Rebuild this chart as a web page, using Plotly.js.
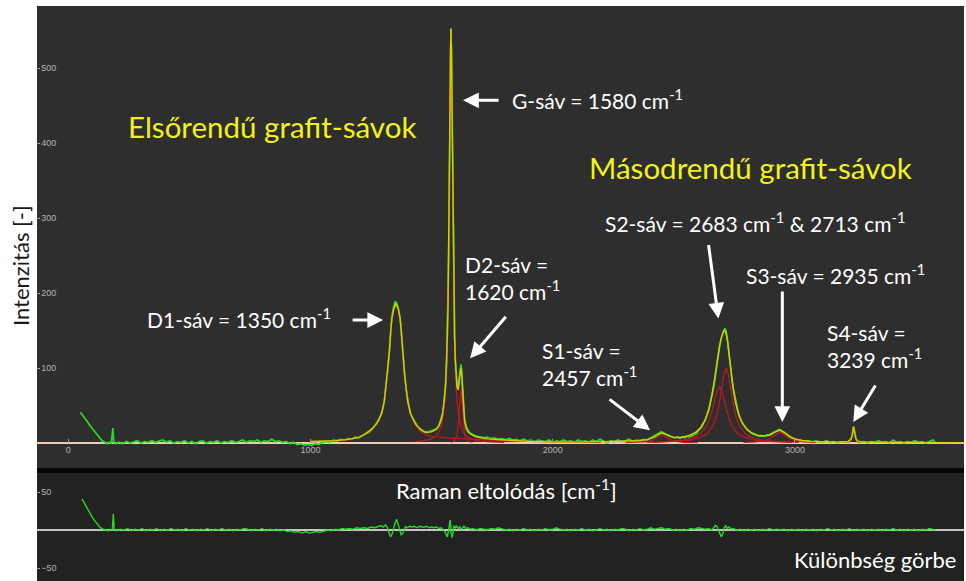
<!DOCTYPE html>
<html>
<head>
<meta charset="utf-8">
<script src="https://cdn.plot.ly/plotly-3.0.1.min.js"></script>
<style>html,body{margin:0;padding:0;background:#fff;}#chart{width:966px;height:581px;}</style>
</head>
<body>
<div id="chart"></div>
<script>
// ---------- DATA ----------
const measuredShift = [50,60,70,80,90,100,110,120,130,140,150,160,170,178,184,188,195,210,225,240,255,270,285,300,315,330,345,360,375,390,405,420,435,450,465,480,495,510,525,540,555,570,585,600,615,630,645,660,675,690,705,720,735,750,765,780,795,810,825,840,855,870,885,900,915,930,945,960,975,990,1005,1020,1035,1050,1065,1080,1095,1110,1125,1140,1155,1170,1185,1200,1215,1230,1245,1260,1273,1283,1293,1300,1305,1312,1318,1326,1331,1336,1343,1350,1353,1358,1363,1370,1375,1380,1388,1395,1401,1407,1413,1423,1433,1443,1453,1462,1470,1480,1490,1500,1510,1520,1530,1539,1545,1550,1555,1558,1562,1565,1568,1570,1572,1574,1576,1578,1580,1582,1584,1586,1588,1590,1592,1595,1598,1602,1605,1608,1611,1614,1618,1621,1624,1628,1632,1636,1642,1650,1660,1670,1680,1690,1700,1715,1730,1745,1760,1775,1790,1805,1820,1835,1850,1865,1880,1895,1910,1925,1940,1955,1970,1985,2000,2015,2030,2045,2060,2075,2090,2105,2120,2135,2150,2165,2180,2195,2210,2225,2240,2255,2270,2285,2300,2315,2330,2345,2360,2375,2390,2400,2410,2420,2430,2440,2448,2456,2465,2475,2485,2495,2505,2515,2525,2535,2545,2555,2565,2575,2585,2595,2605,2615,2625,2635,2645,2652,2658,2664,2670,2676,2682,2688,2694,2700,2706,2711,2716,2722,2728,2734,2740,2746,2752,2758,2764,2770,2778,2786,2795,2805,2815,2825,2835,2845,2855,2865,2875,2885,2895,2905,2915,2925,2935,2942,2950,2958,2966,2975,2985,2995,3005,3015,3025,3040,3055,3070,3085,3100,3115,3130,3145,3160,3175,3190,3205,3220,3230,3236,3240,3243,3247,3252,3258,3270,3285,3300,3315,3330,3345,3360,3375,3390,3405,3420,3435,3450,3465,3480,3495,3510,3525,3540,3555,3570,3578];
const measuredIntensity = [41,37,32,28,23,19,15,11,7,3,1,-1,1,0,20,1,-1,1,-1,2,0,1,3,0,2,1,3,1,2,4,1,3,0,2,1,3,0,2,-1,2,3,0,2,1,3,0,2,1,3,1,2,4,1,3,2,4,1,3,2,5,2,3,1,2,-1,1,-2,-1,-3,-2,-3,-1,-2,1,2,1,4,3,5,4,6,5,8,7,10,12,15,21,27,31,40,47,57,75,94,125,150,168,181,189,188,185,179,167,149,124,94,72,58,48,40,32,27,22,19,17,15,14,15,16,17,19,23,31,39,50,65,80,105,142,188,236,298,372,455,525,553,522,452,371,297,236,189,143,112,88,78,74,76,86,100,105,98,74,48,32,23,17,13,11,10,9,8,7,8,6,7,5,6,4,6,4,5,3,5,3,4,2,4,3,2,4,1,3,2,4,2,3,1,4,2,3,1,4,2,5,2,0,3,2,4,2,3,5,2,4,3,5,4,6,7,9,12,14,15,14,12,11,9,8,7,8,6,8,7,9,8,10,11,13,18,21,28,35,45,55,63,74,86,101,115,126,137,144,150,153,149,137,118,100,85,72,61,53,44,36,30,25,21,17,15,12,11,10,9,10,9,11,11,13,15,16,18,17,16,14,12,10,7,6,4,3,4,2,3,1,3,2,1,3,1,2,0,2,1,2,5,10,18,22,14,6,2,1,2,0,2,1,3,1,2,0,4,1,2,0,2,1,3,1,2,0,2,4,1];

const fitShift = [1000,1100,1150,1200,1223,1253,1273,1293,1305,1318,1326,1331,1336,1343,1353,1363,1370,1375,1380,1388,1401,1413,1433,1453,1470,1480,1500,1520,1530,1539,1545,1550,1555,1558,1562,1565,1568,1570,1572,1574,1576,1578,1580,1582,1584,1586,1588,1590,1592,1595,1598,1602,1605,1608,1610,1614,1618,1621,1624,1628,1632,1636,1642,1650,1660,1680,1700,1730,1800,1900,2000,2100,2200,2300,2350,2390,2420,2435,2450,2465,2480,2500,2530,2560,2590,2610,2630,2645,2658,2668,2678,2688,2696,2704,2710,2716,2722,2730,2738,2746,2756,2766,2780,2800,2820,2845,2870,2895,2918,2938,2958,2978,3000,3030,3070,3120,3180,3220,3232,3236,3239,3242,3245,3248,3252,3260,3280,3350,3450,3550,3700];
const fitIntensity = [2,3,4.5,7.5,11.5,18.5,25.5,38.5,55.7,92.8,122,148,166,178,186,178,166,148,122,93,56,39,25.5,18,15,14.4,14.9,18.4,23,30,38,49,64,78,104,140,187,235,296,370,453,523,552,523,453,370,296,235,187,140,109,84,74,72,71,83,96,100,92,68,44.5,29.5,20.4,15,12,8.5,7.3,5.5,4,2.2,1.6,1.2,1.9,2.3,3,4.5,7.9,11,13.3,11.7,9.2,7.4,7.7,9.5,14.3,20.3,31.2,45.3,64.5,84.6,107.7,128.5,140.5,148.2,150,146,134.8,112.8,89.7,70.6,52.4,39.9,28.2,18.9,13.7,10.4,9.3,10.4,14.4,17.2,13.3,8.5,5.4,3.4,2.2,1.5,1.1,2,5.2,9.6,16.4,22,16.4,9.6,5.2,2.45,1.3,0.8,0.65,0.55,0.45];

const d1Shift = [1000,1100,1150,1200,1223,1253,1273,1293,1305,1318,1326,1331,1336,1343,1353,1363,1370,1375,1380,1388,1401,1413,1433,1453,1470,1480,1500,1520,1540,1560,1580,1600,1620,1640,1660,1700,1750,1800,1900,2000,2100,2200];
const d1Intensity = [1.5,2.5,4,7,11,18,25,38,55,92,121,147,165,177,185,177,165,147,121,92,55,38,24,16,12,10.5,9,8,7.5,7,6.6,6.2,5.8,5.4,5,4.3,3.6,3,2.2,1.6,1.2,1];

const gShift = [1430,1480,1500,1520,1530,1539,1545,1550,1555,1558,1562,1565,1568,1570,1572,1574,1576,1578,1580,1582,1584,1586,1588,1590,1592,1595,1598,1602,1605,1610,1615,1621,1630,1640,1660,1680,1730,1800];
const gIntensity = [1.7,3.9,5.9,10.4,15,22.4,30.3,41,56.5,71,97,133,180,228,289,363,446,516,545,516,446,363,289,228,180,133,97,71,56.5,41,30.3,22.4,15,10.4,5.9,3.9,1.7,1];

const d2Shift = [1580,1596,1602,1606,1610,1614,1618,1621,1624,1628,1632,1636,1642,1650,1670];
const d2Intensity = [1,3,7,13,24,44,64,72,66,46,25,12,5,2,1];

const s1Shift = [2300,2360,2390,2405,2420,2435,2450,2465,2480,2495,2510,2540,2600];
const s1Intensity = [0.4,1,2,3.1,5,8,10,8,5,3.1,2,1,0.4];

const s2aShift = [2388,2488,2538,2588,2608,2628,2638,2648,2658,2668,2678,2688,2698,2708,2718,2728,2738,2748,2768,2788,2838,2888,2988];
const s2aIntensity = [1,2.2,3.9,8.2,12.1,19,24.7,32.5,43.2,56.5,69.3,75,69.3,56.5,43.2,32.5,24.7,19,12.1,8.2,3.9,2.2,1];

const s2bShift = [2416,2516,2566,2616,2636,2656,2666,2676,2686,2696,2706,2716,2726,2736,2746,2756,2766,2776,2796,2816,2866,2916,3016];
const s2bIntensity = [1,2.2,3.8,8.3,12.3,20,26.5,36,50,69.2,90,100,90,69.2,50,36,26.5,20,12.3,8.3,3.8,2.2,1];

const s3Shift = [2788,2838,2878,2898,2918,2938,2958,2978,2998,3038,3088];
const s3Intensity = [0.7,1.5,3.6,6.1,10.5,14,10.5,6.1,3.6,1.5,0.7];

const s4Shift = [3217,3227,3232,3236,3239,3242,3245,3248,3252,3257,3267];
const s4Intensity = [0.8,2.1,4.2,8.6,15.4,21,15.4,8.6,4.2,2.1,0.8];

const residualShift = [57,65,75,85,95,105,117,130,144,155,165,175,182,186,190,200,215,230,245,260,275,290,305,320,335,350,365,380,395,410,425,440,455,470,485,500,515,530,545,560,575,590,605,620,635,650,665,680,695,710,725,740,755,770,785,800,815,830,845,860,875,890,905,920,935,950,965,980,995,1010,1025,1040,1055,1070,1085,1100,1115,1130,1145,1160,1175,1190,1205,1220,1235,1250,1265,1280,1290,1300,1310,1318,1324,1330,1336,1342,1350,1356,1362,1368,1374,1380,1386,1392,1400,1410,1420,1430,1440,1450,1460,1470,1480,1490,1500,1510,1520,1530,1540,1548,1555,1560,1565,1569,1573,1577,1581,1585,1589,1593,1598,1604,1610,1616,1622,1628,1634,1640,1650,1660,1670,1685,1700,1715,1730,1745,1760,1775,1790,1805,1820,1835,1850,1865,1880,1895,1910,1925,1940,1955,1970,1985,2000,2015,2030,2045,2060,2075,2090,2105,2120,2135,2150,2165,2180,2195,2210,2225,2240,2255,2270,2285,2300,2315,2330,2345,2360,2375,2390,2405,2420,2435,2450,2465,2480,2495,2510,2525,2540,2555,2570,2585,2600,2615,2630,2645,2655,2665,2672,2678,2684,2690,2696,2702,2708,2714,2720,2728,2736,2745,2760,2775,2790,2805,2820,2835,2850,2865,2880,2895,2910,2925,2940,2955,2970,2985,3000,3015,3030,3045,3060,3075,3090,3105,3120,3135,3150,3165,3180,3195,3210,3225,3240,3255,3270,3285,3300,3315,3330,3345,3360,3375,3390,3405,3420,3435,3450,3465,3480,3495,3510,3525,3540,3555,3570,3578];
const residualIntensity = [41,36,30,24,19,14,9,4,1,0,-1,1,0,21,1,-1,1,0,2,-1,1,0,2,-1,1,0,2,-1,1,0,2,0,1,-1,2,0,1,-1,1,0,2,-1,1,0,2,0,1,-1,1,0,2,1,-1,1,0,2,-1,1,0,1,-1,0,-2,-1,-3,-2,-4,-2,-4,-3,-2,-3,-1,0,-1,1,0,2,1,2,1,3,2,3,2,4,3,5,6,4,7,3,-4,-9,-6,2,10,14,8,-1,-6,-5,0,4,3,5,4,5,3,5,4,4,5,3,4,3,4,2,3,1,-2,-6,-9,-2,8,13,-4,-10,-3,6,3,5,2,4,1,3,5,2,3,1,2,0,2,1,0,2,1,3,2,0,1,-1,1,0,2,0,1,-1,1,0,2,0,1,3,1,0,1,-1,1,0,2,0,1,-1,0,2,0,1,-1,1,0,2,1,-1,1,0,2,0,1,3,1,2,3,1,2,0,1,-1,1,0,2,1,3,2,1,2,0,3,6,5,1,-4,-9,-5,3,6,2,4,1,2,0,1,-1,1,0,1,-1,1,0,2,0,1,0,1,-1,1,0,1,-1,1,0,1,-1,1,0,2,0,1,-1,1,0,2,-1,1,0,1,-1,1,0,1,-1,1,0,2,0,1,-1,1,0,1,-1,1,0,2,1,0];

const xTickVals = [0, 1000, 2000, 3000];
const mainTickVals = [100, 200, 300, 400, 500];
const diffTickVals = [-50, 50];

// ---------- LAYOUT HELPERS ----------
const W = 966, H = 581, L = 37, R = 2, T = 6, B = 0;
const px = x => (x - L) / (W - L - R);
const py = y => (H - B - y) / (H - T - B);

const GREEN = '#25dc25', YELLOW = '#d8cc00', RED = '#c8161e';

function comp(x, y) {
  return {x: x, y: y, type: 'scatter', mode: 'lines', xaxis: 'x', yaxis: 'y',
          line: {color: RED, width: 1.2}, hoverinfo: 'skip'};
}

const traces = [
  {x: measuredShift, y: measuredIntensity, type: 'scatter', mode: 'lines', xaxis: 'x', yaxis: 'y',
   line: {color: GREEN, width: 1.7}},
  comp(d1Shift, d1Intensity), comp(gShift, gIntensity), comp(d2Shift, d2Intensity),
  comp(s1Shift, s1Intensity), comp(s2aShift, s2aIntensity), comp(s2bShift, s2bIntensity),
  comp(s3Shift, s3Intensity), comp(s4Shift, s4Intensity),
  {x: fitShift, y: fitIntensity, type: 'scatter', mode: 'lines', xaxis: 'x', yaxis: 'y',
   line: {color: YELLOW, width: 1.4}},
  {x: residualShift, y: residualIntensity, type: 'scatter', mode: 'lines', xaxis: 'x', yaxis: 'y2',
   line: {color: GREEN, width: 1.4}}
];

const FAM = 'Lato, "Open Sans", sans-serif';
const whiteFont = {family: FAM, size: 21, color: '#ffffff'};
const yellowFont = {family: FAM, size: 29.5, color: '#f2f21a'};

function label(text, left, vcenter, font) {
  return {text: text, xref: 'paper', yref: 'paper', x: px(left), y: py(vcenter),
          xanchor: 'left', yanchor: 'middle', align: 'left', showarrow: false, font: font};
}
function arrow(xTip, yTip, ax, ay) {
  return {text: '', xref: 'x', yref: 'y', x: xTip, y: yTip, ax: ax, ay: ay,
          showarrow: true, arrowhead: 2, arrowsize: 1.05, arrowwidth: 3, arrowcolor: '#ffffff', standoff: 0};
}

const annotations = [
  label('Elsőrendű grafit-sávok', 126, 126, yellowFont),
  label('Másodrendű grafit-sávok', 587, 167, yellowFont),
  label('G-sáv = 1580 cm<sup>-1</sup>', 510, 99, whiteFont),
  label('D1-sáv = 1350 cm<sup>-1</sup>', 145, 318, whiteFont),
  label('D2-sáv =<br>1620 cm<sup>-1</sup>', 463, 278, whiteFont),
  label('S1-sáv =<br>2457 cm<sup>-1</sup>', 540, 364, whiteFont),
  label('S2-sáv = 2683 cm<sup>-1</sup> &amp; 2713 cm<sup>-1</sup>', 603, 222, whiteFont),
  label('S3-sáv = 2935 cm<sup>-1</sup>', 744, 274, whiteFont),
  label('S4-sáv =<br>3239 cm<sup>-1</sup>', 825, 346, whiteFont),
  label('Raman eltolódás [cm<sup>-1</sup>]', 394, 490, Object.assign({}, whiteFont, {size: 22})),
  label('Különbség görbe', 792, 559, Object.assign({}, whiteFont, {size: 22})),
  {text: 'Intenzitás [-]', xref: 'paper', yref: 'paper', x: px(20), y: py(266),
   xanchor: 'center', yanchor: 'middle', textangle: -90, showarrow: false,
   font: {family: FAM, size: 22, color: '#1a1a1a'}},
  arrow(1630, 457, 37, 0),
  arrow(1300, 164, -32, 0),
  arrow(1659, 113, 37, -43),
  arrow(2402, 17, -42, -32),
  arrow(2684, 166, -10, -75),
  arrow(2948, 28, 0, -132),
  arrow(3241, 28, 23, -38)
];

const tickFont = {family: '"Liberation Sans", Arial, sans-serif', size: 9, color: '#b4b4b4'};

const layout = {
  width: W, height: H,
  margin: {l: L, r: R, t: T, b: B, pad: 0},
  paper_bgcolor: '#ffffff',
  plot_bgcolor: '#2e2e2e',
  showlegend: false,
  xaxis: {range: [-129, 3698], tickvals: xTickVals, ticks: 'inside', ticklen: 4, tickcolor: '#9a9a9a',
          tickfont: tickFont, showgrid: false, zeroline: false, showline: false,
          anchor: 'free', position: py(443), domain: [0, 1]},
  yaxis: {domain: [py(468), 1], range: [-33.3, 582.7], tickvals: mainTickVals, ticks: 'inside', ticklen: 3,
          tickcolor: '#9a9a9a', ticklabelposition: 'inside', tickfont: tickFont, showgrid: false,
          zeroline: true, zerolinecolor: '#f2cbb4', zerolinewidth: 1.5, showline: false, anchor: 'x'},
  yaxis2: {domain: [0, py(473)], range: [-67, 75], tickvals: diffTickVals, ticks: 'inside', ticklen: 3,
           tickcolor: '#9a9a9a', ticklabelposition: 'inside', tickfont: tickFont, showgrid: false,
           zeroline: true, zerolinecolor: '#c4c4c4', zerolinewidth: 1.2, showline: false, anchor: 'x'},
  shapes: [
    {type: 'rect', xref: 'paper', yref: 'paper', x0: 0, x1: 1, y0: 0, y1: py(473),
     fillcolor: '#222222', line: {width: 0}, layer: 'below'},
    {type: 'rect', xref: 'paper', yref: 'paper', x0: 0, x1: 1, y0: py(473), y1: py(468),
     fillcolor: '#050505', line: {width: 0}, layer: 'below'}
  ],
  annotations: annotations
};

Plotly.newPlot('chart', traces, layout, {staticPlot: true, displayModeBar: false});
</script>
</body>
</html>
